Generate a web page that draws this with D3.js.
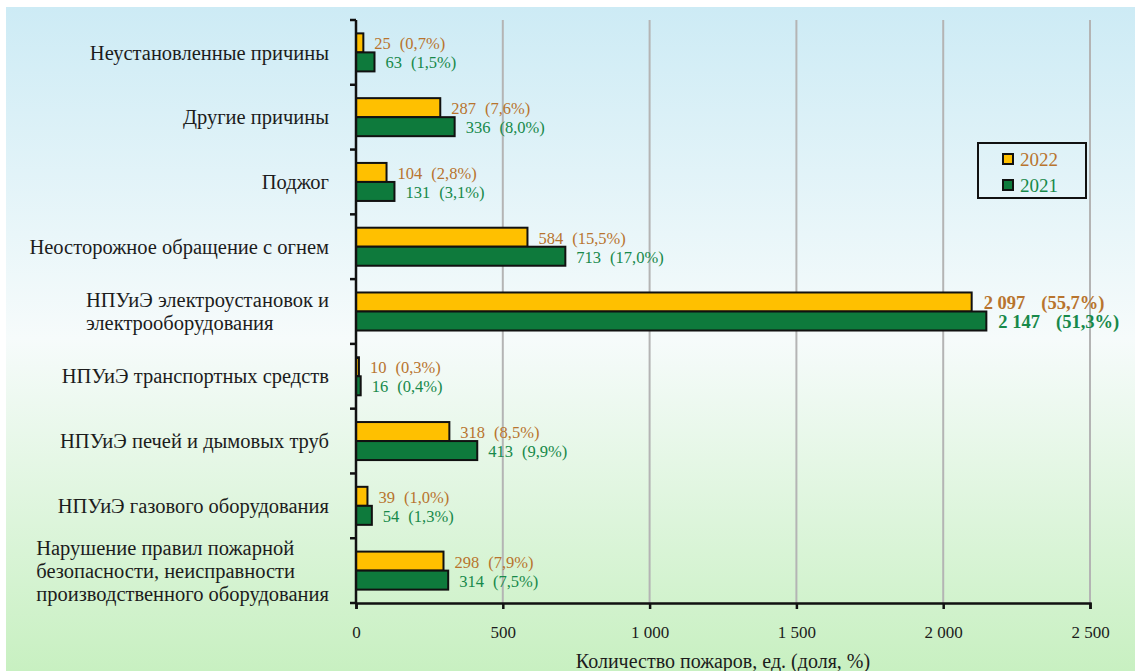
<!DOCTYPE html>
<html lang="ru">
<head>
<meta charset="utf-8">
<script src="https://cdn.jsdelivr.net/npm/d3@7/dist/d3.min.js"></script>
<style>
  html, body { margin: 0; padding: 0; background: #ffffff; }
  svg { display: block; font-family: "Liberation Serif", "DejaVu Serif", serif; }
</style>
</head>
<body>
<svg id="chart" width="1135" height="671"></svg>
<script>
// Причины пожаров: количество и доля, 2022 и 2021 годы
const categories = [
  ["Неустановленные причины"],
  ["Другие причины"],
  ["Поджог"],
  ["Неосторожное обращение с огнем"],
  ["НПУиЭ электроустановок и", "электрооборудования"],
  ["НПУиЭ транспортных средств"],
  ["НПУиЭ печей и дымовых труб"],
  ["НПУиЭ газового оборудования"],
  ["Нарушение правил пожарной", "безопасности, неисправности", "производственного оборудования"]
];
const seriesNames = ["2022", "2021"];
const values2022 = [25, 287, 104, 584, 2097, 10, 318, 39, 298];
const values2021 = [63, 336, 131, 713, 2147, 16, 413, 54, 314];
const share2022 = [0.7, 7.6, 2.8, 15.5, 55.7, 0.3, 8.5, 1.0, 7.9];
const share2021 = [1.5, 8.0, 3.1, 17.0, 51.3, 0.4, 9.9, 1.3, 7.5];
const xTicks = [0, 500, 1000, 1500, 2000, 2500];
const axisTitle = "Количество пожаров, ед. (доля, %)";

const barFill = ["#ffc000", "#0e7a3c"];
const textFill = ["#b8742e", "#17894a"];
const seriesValues = [values2022, values2021];
const seriesShares = [share2022, share2021];

const svg = d3.select("#chart");
const W = 1135, H = 671;

// фон с вертикальным градиентом
const defs = svg.append("defs");
const grad = defs.append("linearGradient").attr("id", "bg").attr("x1", 0).attr("y1", 0).attr("x2", 0).attr("y2", 1);
grad.append("stop").attr("offset", "0%").attr("stop-color", "#cdebf5");
grad.append("stop").attr("offset", "50%").attr("stop-color", "#f6fbfb");
grad.append("stop").attr("offset", "100%").attr("stop-color", "#c8f0c1");
svg.append("rect").attr("x", 6).attr("y", 7).attr("width", W - 6).attr("height", H - 7).attr("fill", "url(#bg)");

const plot = { left: 356, right: 1090, top: 20, bottom: 603 };

const x = d3.scaleLinear().domain([0, 2500]).range([plot.left, plot.right]);
const y = d3.scaleBand().domain(d3.range(categories.length))
  .range([plot.top, plot.bottom]).paddingInner(0.413).paddingOuter(0.2065);
const ySub = d3.scaleBand().domain(d3.range(seriesNames.length)).range([0, y.bandwidth()]);

const thousands = d3.formatLocale({ decimal: ",", thousands: " ", grouping: [3], currency: ["", ""] });
const fmtInt = thousands.format(",d");
const fmtPct = thousands.format(",.1f");

// вертикальные линии сетки
svg.append("g").selectAll("line").data(xTicks.filter(d => d > 0)).join("line")
  .attr("x1", d => x(d)).attr("x2", d => x(d))
  .attr("y1", plot.top).attr("y2", plot.bottom)
  .attr("stroke", "#b4b4b4").attr("stroke-width", 2);

// столбцы
const groups = svg.append("g").selectAll("g").data(d3.range(categories.length)).join("g")
  .attr("transform", i => `translate(0,${y(i)})`);

seriesNames.forEach((name, s) => {
  groups.append("rect")
    .attr("x", x(0))
    .attr("y", ySub(s))
    .attr("width", i => x(seriesValues[s][i]) - x(0))
    .attr("height", ySub.bandwidth())
    .attr("fill", barFill[s])
    .attr("stroke", "#111")
    .attr("stroke-width", 2);
});

// подписи значений
const maxIdx = d3.maxIndex(values2021);
seriesNames.forEach((name, s) => {
  const t = groups.append("text")
    .attr("x", i => x(seriesValues[s][i]) + (i === maxIdx ? 12 : 11))
    .attr("y", ySub(s) + ySub.bandwidth() / 2 + 1)
    .attr("dy", "0.33em")
    .attr("fill", textFill[s])
    .attr("font-size", i => i === maxIdx ? 18.5 : 16.5)
    .attr("font-weight", i => i === maxIdx ? "bold" : "normal");
  t.append("tspan").text(i => fmtInt(seriesValues[s][i]));
  t.append("tspan").attr("dx", i => i === maxIdx ? 16 : 9)
    .text(i => `(${fmtPct(seriesShares[s][i])}%)`);
});

// ось Y с засечками на границах категорий
const yAxis = svg.append("g");
yAxis.append("line").attr("x1", plot.left).attr("x2", plot.left)
  .attr("y1", plot.top).attr("y2", plot.bottom)
  .attr("stroke", "#111").attr("stroke-width", 2.5);
const step = y.step();
yAxis.selectAll("line.tick").data(d3.range(categories.length + 1)).join("line")
  .attr("class", "tick")
  .attr("x1", plot.left - 6).attr("x2", plot.left)
  .attr("y1", i => plot.top + i * step).attr("y2", i => plot.top + i * step)
  .attr("stroke", "#111").attr("stroke-width", 2.5);

// подписи категорий
const labelRight = 329;
const lineH = 23;
categories.forEach((lines, i) => {
  const cy = y(i) + y.bandwidth() / 2;
  const g = svg.append("g");
  const texts = g.selectAll("text").data(lines).join("text")
    .attr("y", (d, k) => cy + (k - (lines.length - 1) / 2) * lineH)
    .attr("dy", "0.35em")
    .attr("font-size", 20.5)
    .attr("fill", "#1c1c1c")
    .text(d => d);
  if (lines.length === 1) {
    texts.attr("x", labelRight).attr("text-anchor", "end");
  } else {
    const wMax = d3.max(texts.nodes(), n => n.getComputedTextLength());
    texts.attr("x", labelRight - wMax).attr("text-anchor", "start");
  }
});

// ось X
const xAxis = d3.axisBottom(x).tickValues(xTicks).tickSize(6).tickPadding(17)
  .tickFormat(d => fmtInt(d));
const gx = svg.append("g").attr("transform", `translate(0,${plot.bottom})`).call(xAxis);
gx.select(".domain").attr("stroke", "#111").attr("stroke-width", 2.5);
gx.selectAll(".tick line").attr("stroke", "#111").attr("stroke-width", 2.5);
gx.selectAll(".tick text").attr("font-family", "Liberation Serif, serif").attr("font-size", 17).attr("fill", "#1c1c1c");

svg.append("text")
  .attr("x", (plot.left + plot.right) / 2).attr("y", 661)
  .attr("dy", "0.35em").attr("text-anchor", "middle")
  .attr("font-size", 20).attr("fill", "#1c1c1c")
  .text(axisTitle);

// легенда
const lg = svg.append("g").attr("transform", "translate(978,143)");
lg.append("rect").attr("width", 108).attr("height", 55)
  .attr("fill", "none").attr("stroke", "#111").attr("stroke-width", 2);
seriesNames.forEach((name, s) => {
  const row = lg.append("g").attr("transform", `translate(25,${11 + s * 26})`);
  row.append("rect").attr("width", 10).attr("height", 10)
    .attr("fill", barFill[s]).attr("stroke", "#111").attr("stroke-width", 2);
  row.append("text").attr("x", 17).attr("y", 5).attr("dy", "0.35em")
    .attr("font-size", 19).attr("fill", textFill[s]).text(name);
});
</script>
</body>
</html>
